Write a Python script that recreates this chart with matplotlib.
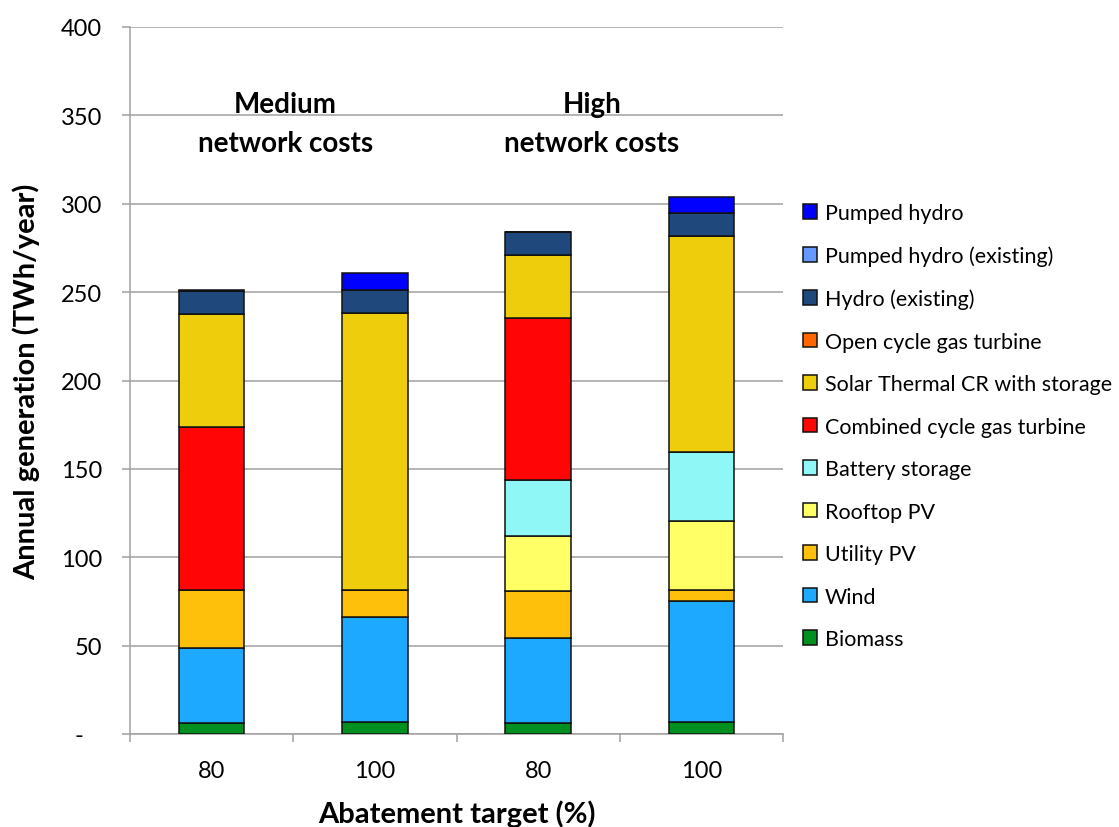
import numpy as np
import matplotlib
matplotlib.use('Agg')
import matplotlib.pyplot as plt
from matplotlib.patches import Patch, Rectangle

plt.rcParams['font.family'] = ['Lato', 'DejaVu Sans']

targets = ['80', '100', '80', '100']
groups = ['Medium\nnetwork costs', 'High\nnetwork costs']

# generation by technology (TWh/year), bottom of the stack first
technologies = ['Biomass', 'Wind', 'Utility PV', 'Rooftop PV', 'Battery storage',
                'Combined cycle gas turbine', 'Solar Thermal CR with storage',
                'Open cycle gas turbine', 'Hydro (existing)',
                'Pumped hydro (existing)', 'Pumped hydro']
biomass = [6.2, 6.6, 6.2, 6.6]
wind = [42.5, 59.8, 48.3, 68.6]
utility_pv = [32.8, 15.1, 26.4, 6.3]
rooftop_pv = [0.0, 0.0, 31.3, 39.0]
battery = [0.0, 0.0, 31.5, 39.2]
ccgt = [92.2, 0.0, 91.7, 0.0]
solar_thermal = [64.1, 156.6, 35.8, 122.1]
ocgt = [0.0, 0.0, 0.0, 0.0]
hydro = [12.7, 13.0, 12.8, 12.8]
pumped_existing = [0.0, 0.0, 0.0, 0.0]
pumped = [0.9, 10.0, 0.0, 9.4]

series = [biomass, wind, utility_pv, rooftop_pv, battery, ccgt, solar_thermal,
          ocgt, hydro, pumped_existing, pumped]
colors = ['#00901F', '#1CA9FF', '#FFC00C', '#FFFF66', '#8FF8F6', '#FF0505',
          '#EECE0C', '#FF6600', '#1F497D', '#6699FF', '#0000FF']

fig = plt.figure(figsize=(11.19, 8.28), dpi=100)
ax = fig.add_axes([130 / 1119, 93 / 828, 653 / 1119, 707 / 828])

x = np.arange(len(targets))
bottom = np.zeros(len(targets))
for vals, col in zip(series, colors):
    vals = np.array(vals)
    ax.bar(x, vals, 0.4, bottom=bottom, color=col, edgecolor='#111111',
           linewidth=1.1, zorder=3)
    bottom += vals

ax.set_xlim(-0.5, len(targets) - 0.5)
ax.set_ylim(0, 400)
ax.set_yticks(np.arange(0, 401, 50))
ax.set_yticklabels(['-   '] + [str(v) for v in range(50, 401, 50)])
ax.set_xticks(x)
ax.set_xticklabels(targets)
ax.set_xticks(np.arange(-0.5, len(targets), 1), minor=True)

gray = '#A0A0A0'
ax.yaxis.grid(True, color=gray, linewidth=1.1, zorder=0)
for s in ['top', 'right']:
    ax.spines[s].set_visible(False)
for s in ['left', 'bottom']:
    ax.spines[s].set_color(gray)
    ax.spines[s].set_linewidth(1.1)
ax.tick_params(axis='y', length=6, width=1.1, color=gray, labelsize=17, pad=14)
ax.tick_params(axis='x', which='major', length=0, labelsize=17, pad=19)
ax.tick_params(axis='x', which='minor', length=6, width=1.1, color=gray)

ax.set_ylabel('Annual generation (TWh/year)', fontsize=21, fontweight='bold',
              labelpad=15)
ax.set_xlabel('Abatement target (%)', fontsize=21, fontweight='bold', labelpad=13)

# white panels behind the group headings hide the gridline there
for x0, x1 in [(0.023, 0.452), (0.495, 0.920)]:
    ax.add_patch(Rectangle((x0, 0.815), x1 - x0, 0.1, transform=ax.transAxes,
                           facecolor='white', edgecolor='none', zorder=1))
ax.text(0.45, 345.5, groups[0], ha='center', va='center', fontsize=20,
        fontweight='bold', linespacing=1.6, zorder=2)
ax.text(2.33, 345.5, groups[1], ha='center', va='center', fontsize=20,
        fontweight='bold', linespacing=1.6, zorder=2)

handles = [Patch(facecolor=c, edgecolor='#111111', linewidth=1.1, label=t)
           for t, c in zip(technologies, colors)][::-1]
fig.legend(handles=handles, loc='upper left', bbox_to_anchor=(803 / 1119, 624 / 828),
           frameon=False, fontsize=15.5, handlelength=0.65, handleheight=0.65,
           handletextpad=0.35, labelspacing=1.045, borderpad=0, borderaxespad=0)

fig.savefig('out.png', dpi=100)
